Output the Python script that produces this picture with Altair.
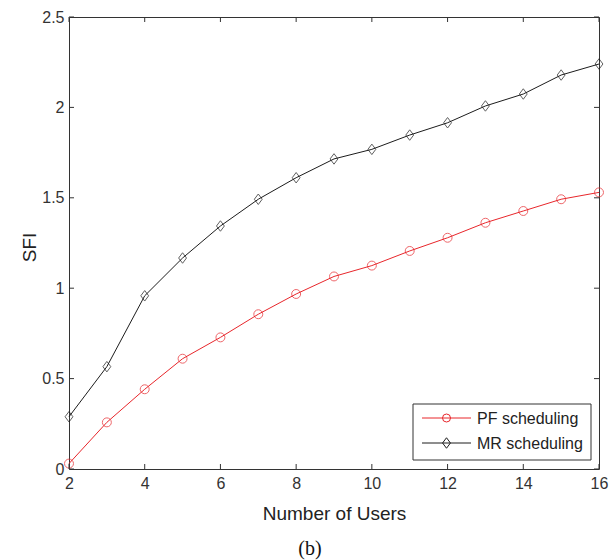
import altair as alt
import pandas as pd

# Number of users on the x axis
users = list(range(2, 17))

# SFI for each scheduling scheme
pf_sfi = [0.03, 0.258, 0.441, 0.61, 0.728, 0.856, 0.968, 1.065, 1.125, 1.206,
          1.279, 1.362, 1.427, 1.492, 1.53]
mr_sfi = [0.289, 0.566, 0.958, 1.167, 1.344, 1.492, 1.611, 1.715, 1.768, 1.847,
          1.915, 2.008, 2.074, 2.179, 2.24]

series_names = ["PF scheduling", "MR scheduling"]
series_colors = ["#e8262b", "#1c1c1c"]

x_ticks = [2, 4, 6, 8, 10, 12, 14, 16]
y_ticks = [0, 0.5, 1, 1.5, 2, 2.5]

W, H = 530, 452
FONT = "Liberation Sans"
DIAMOND = "M0,-1L0.75,0L0,1L-0.75,0Z"

df = pd.DataFrame({
    "users": users * 2,
    "sfi": pf_sfi + mr_sfi,
    "scheme": [series_names[0]] * len(users) + [series_names[1]] * len(users),
})

xscale = alt.Scale(domain=[2, 16], nice=False, zero=False)
yscale = alt.Scale(domain=[0, 2.5], nice=False)
color = alt.Color("scheme:N", scale=alt.Scale(domain=series_names, range=series_colors), legend=None)

x_axis = alt.Axis(values=x_ticks, ticks=False, domain=False, grid=False,
                  labelFontSize=16, labelPadding=6, labelColor="#333", labelFlush=False,
                  labelFont=FONT, title="Number of Users", titleFont=FONT,
                  titleFontSize=19, titleFontWeight="normal", titleColor="#222",
                  titleX=W / 2, titleY=50, titleAlign="center",
                  titleBaseline="alphabetic")
y_axis = alt.Axis(values=y_ticks, format="~g", ticks=False, domain=False, grid=False,
                  labelFontSize=16, labelPadding=5, labelColor="#333", labelFlush=False,
                  labelFont=FONT, title="SFI", titleFont=FONT, titleFontSize=19,
                  titleFontWeight="normal", titleColor="#222", titleAngle=270,
                  titleX=-34, titleY=230, titleAlign="center",
                  titleBaseline="alphabetic")
x_enc = alt.X("users:Q", scale=xscale, axis=x_axis)
y_enc = alt.Y("sfi:Q", scale=yscale, axis=y_axis)

base = alt.Chart(df)
lines = base.mark_line(strokeWidth=1).encode(x=x_enc, y=y_enc, color=color, detail="scheme:N")
pf_pts = base.transform_filter(alt.datum.scheme == series_names[0]).mark_point(
    shape="circle", size=80, filled=False, strokeWidth=1, color=series_colors[0]
).encode(x=x_enc, y=y_enc)
mr_pts = base.transform_filter(alt.datum.scheme == series_names[1]).mark_point(
    shape=DIAMOND, size=110, filled=False, strokeWidth=1, color=series_colors[1]
).encode(x=x_enc, y=y_enc)

# inward tick marks on all four sides of the frame
xt = pd.DataFrame({"users": x_ticks})
yt = pd.DataFrame({"sfi": y_ticks})
tick_style = dict(color="#333", strokeWidth=1)
xt_bottom = alt.Chart(xt).mark_rule(**tick_style).encode(
    x=x_enc, y=alt.value(H), y2=alt.value(H - 5))
xt_top = alt.Chart(xt).mark_rule(**tick_style).encode(
    x=x_enc, y=alt.value(0), y2=alt.value(5))
yt_left = alt.Chart(yt).mark_rule(**tick_style).encode(
    y=y_enc, x=alt.value(0), x2=alt.value(5))
yt_right = alt.Chart(yt).mark_rule(**tick_style).encode(
    y=y_enc, x=alt.value(W), x2=alt.value(W - 5))

# legend box in the lower right corner
one = pd.DataFrame({"k": [0]})
box = alt.Chart(one).mark_rect(fill="white", stroke="#333", strokeWidth=1).encode(
    x=alt.value(344), x2=alt.value(522), y=alt.value(387), y2=alt.value(443))
legend_layers = [box]
for i, (name, col) in enumerate(zip(series_names, series_colors)):
    ry = 401 + 25 * i
    legend_layers.append(alt.Chart(one).mark_rule(color=col, strokeWidth=1).encode(
        x=alt.value(353), x2=alt.value(402), y=alt.value(ry)))
    shape = "circle" if i == 0 else DIAMOND
    size = 64 if i == 0 else 110
    legend_layers.append(alt.Chart(one).mark_point(
        shape=shape, size=size, filled=False, stroke=col, strokeWidth=1, opacity=1
    ).encode(x=alt.value(377.5), y=alt.value(ry)))
    legend_layers.append(alt.Chart(one).mark_text(
        text=name, font=FONT, fontSize=16, color="#222", align="left", baseline="middle"
    ).encode(x=alt.value(408), y=alt.value(ry + 1)))

caption = alt.Chart(one).mark_text(
    text="(b)", font="Liberation Serif", fontSize=20, color="#111", align="center",
    baseline="alphabetic"
).encode(x=alt.value(241), y=alt.value(538))

chart = alt.layer(
    lines, pf_pts, mr_pts, xt_bottom, xt_top, yt_left, yt_right, *legend_layers, caption
).properties(
    width=W, height=H,
    autosize=alt.AutoSizeParams(type="none"),
    padding={"left": 69, "top": 17, "right": 17, "bottom": 91},
    background="white",
).configure_view(stroke="#333", strokeWidth=1)

chart.save("out.html", embed_options={"renderer": "svg", "actions": False})
